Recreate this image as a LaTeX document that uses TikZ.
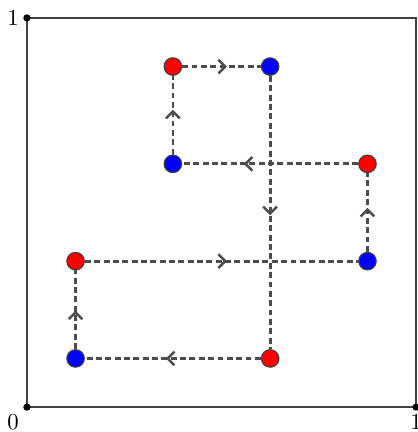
\documentclass[tikz,border=0pt]{standalone}
\usepackage{tikz}
\usetikzlibrary{arrows.meta,decorations.markings}

\tikzset{
    dot/.style={circle, draw=black!75, line width=0.5pt, inner sep=0pt, minimum size=0.27cm},
    reddot/.style={dot, fill=red},
    bluedot/.style={dot, fill=blue},
    link/.style={black!70, line width=1.2pt, dash pattern=on 2.6pt off 1.5pt},
    midarrow/.style={postaction={decorate}, decoration={markings,
        mark=at position #1 with {\arrow[solid]{Straight Barb[length=3pt,width=6pt,line width=1.1pt]}}}}
}

\begin{document}
\begin{tikzpicture}[x=6cm, y=6cm]
    \useasboundingbox (-0.0692,-0.064) rectangle (1.0026,1.046);

    % Unit square
    \draw[black!75, line width=0.8pt] (0,0) rectangle (1,1);
    \fill (0,0) circle (1.6pt) node[below left] {$0$};
    \fill (1,0) circle (1.6pt) node[below] {$1$};
    \fill (0,1) circle (1.6pt) node[left] {$1$};

    % Points
    \node[bluedot] (b1) at (1/8,1/8) {};
    \node[reddot]  (r1) at (1/8,3/8) {};
    \node[bluedot] (b2) at (7/8,3/8) {};
    \node[reddot]  (r2) at (7/8,5/8) {};
    \node[bluedot] (b3) at (3/8,5/8) {};
    \node[reddot]  (r3) at (3/8,7/8) {};
    \node[bluedot] (b4) at (5/8,7/8) {};
    \node[reddot]  (r4) at (5/8,1/8) {};

    % Closed tour
    \draw[link, midarrow=0.54] (r4) -- (b1);
    \draw[link, midarrow=0.49] (b1) -- (r1);
    \draw[link, midarrow=0.52] (r1) -- (b2);
    \draw[link, midarrow=0.56] (b2) -- (r2);
    \draw[link, midarrow=0.65] (r2) -- (b3);
    \draw[link, midarrow=0.57] (b3) -- (r3);
    \draw[link, midarrow=0.57] (r3) -- (b4);
    \draw[link, midarrow=0.51] (b4) -- (r4);
\end{tikzpicture}
\end{document}
